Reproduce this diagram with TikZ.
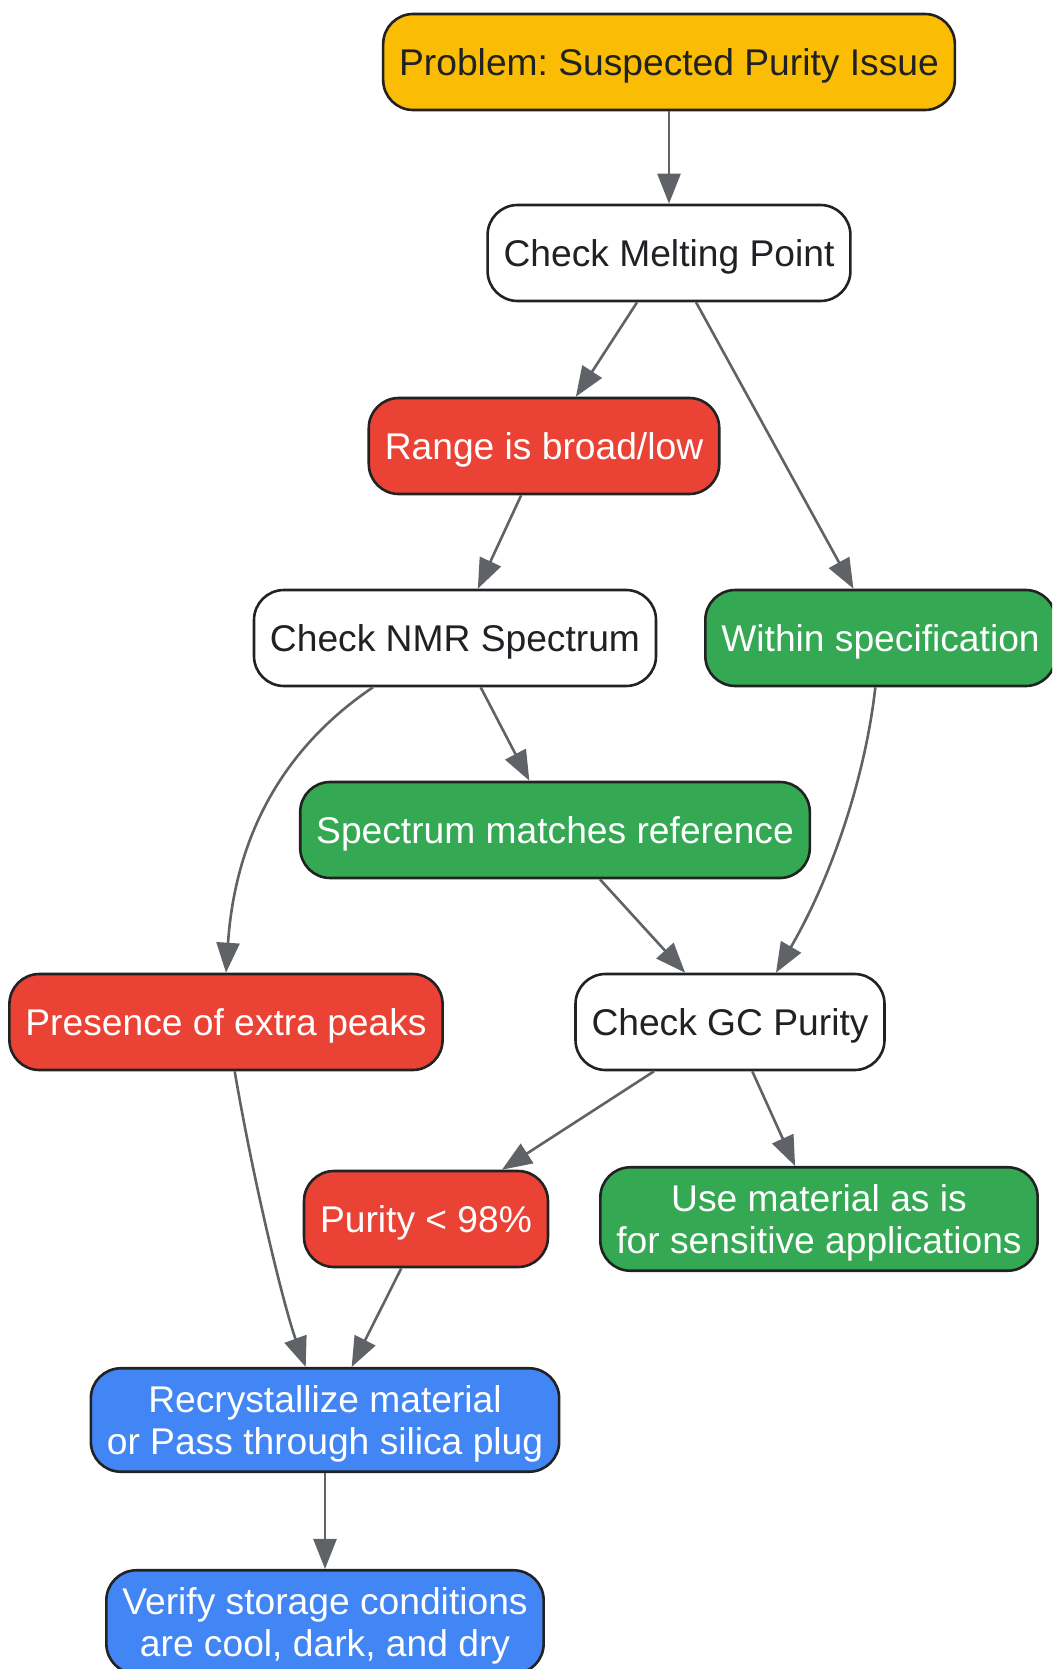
\documentclass[tikz,border=0pt]{standalone}
\usepackage{fontspec}
\setmainfont{Liberation Sans}
\usetikzlibrary{arrows.meta}
\frenchspacing

\definecolor{probyellow}{HTML}{FBBC04}
\definecolor{badred}{HTML}{EA4335}
\definecolor{goodgreen}{HTML}{34A853}
\definecolor{fixblue}{HTML}{4285F4}
\definecolor{boxline}{HTML}{222222}
\definecolor{darktext}{HTML}{202124}
\definecolor{arrowgray}{HTML}{5F6368}

\begin{document}
\begin{tikzpicture}[x=1pt,y=-1pt,
  box/.style={draw=boxline,line width=2.6pt,rounded corners=30pt,inner xsep=16pt,inner ysep=17pt,
    minimum height=96pt,align=center,text=darktext,text depth=0pt,font=\fontsize{37.2}{42.5}\selectfont},
  check/.style={box,fill=white},
  bad/.style={box,fill=badred,text=white},
  good/.style={box,fill=goodgreen,text=white},
  fix/.style={box,fill=fixblue,text=white},
  flow/.style={color=arrowgray,line width=2.6pt,-{Triangle[length=30pt,width=23pt]}}]
\clip (0,0) rectangle (1052,1669);

\node[box,fill=probyellow] (problem) at (669,62) {Problem: Suspected Purity Issue};
\node[check] (mp) at (669,253) {Check Melting Point};
\node[bad] (broad) at (544,446) {Range is broad/low};
\node[check] (nmr) at (455,638) {Check NMR Spectrum};
\node[good] (spec) at (880.5,638) {Within specification};
\node[good] (match) at (555,830) {Spectrum matches reference};
\node[bad] (peaks) at (226,1022) {Presence of extra peaks};
\node[check] (gc) at (730,1022) {Check GC Purity};
\node[bad] (low) at (426,1219) {Purity < 98\%};
\node[good] (use) at (819,1219) {Use material as is\\for sensitive applications};
\node[fix] (recryst) at (325,1420) {Recrystallize material\\or Pass through silica plug};
\node[fix] (storage) at (325,1622) {Verify storage conditions\\are cool, dark, and dry};

\path[flow] (problem) edge (mp)
  (mp) edge (broad)
       edge (spec)
  (broad) edge (nmr)
  (nmr) edge (match)
  (match) edge (gc)
  (gc) edge (low)
       edge (use)
  (low) edge (recryst)
  (recryst) edge (storage);

% curved ones
\draw[flow] (nmr.-149) .. controls (280,750) and (235,840) .. (peaks.north);
\draw[flow] (spec.-96) .. controls (865,780) and (830,880) .. (gc.47);
\draw[flow] (peaks.-80) .. controls (255,1190) and (285,1310) .. (recryst.110);
\end{tikzpicture}
\end{document}
